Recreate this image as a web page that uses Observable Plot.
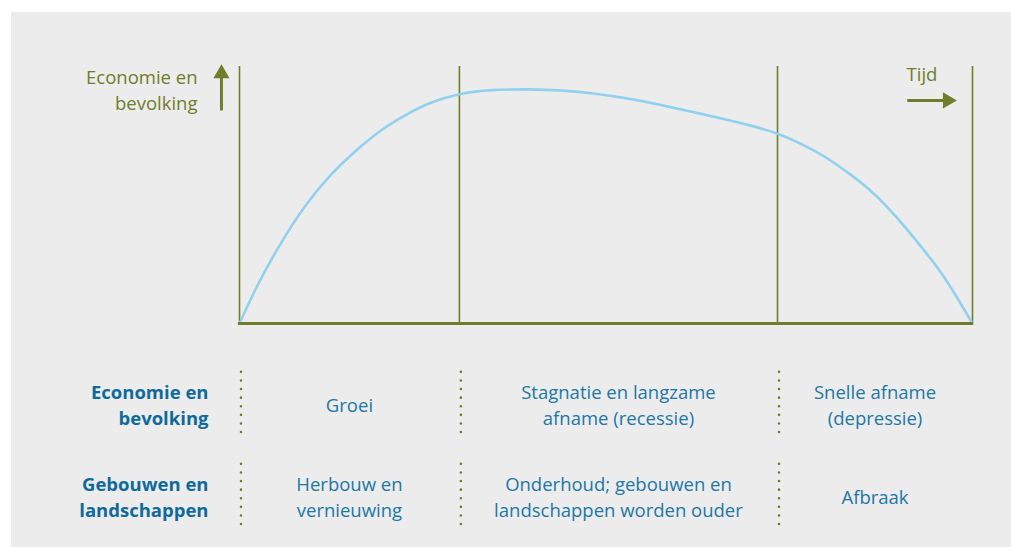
<!DOCTYPE html>
<html>
<head>
<meta charset="utf-8">
<script src="https://cdn.jsdelivr.net/npm/d3@7"></script>
<script src="https://cdn.jsdelivr.net/npm/@observablehq/plot@0.6"></script>
<style>
  html, body { margin: 0; padding: 0; background: #ffffff; }
  #wrap { position: relative; width: 1011px; height: 547px; overflow: hidden; }
  #panel { position: absolute; left: 11px; top: 12px; right: 0; bottom: 0; background: #ececec; }
  #chart { position: absolute; left: 0; top: 0; }
</style>
</head>
<body>
<div id="wrap"><div id="panel"></div><div id="chart"></div></div>
<script>
// time (0–100) vs. level of economy & population (0–100)
const curveTime  = [0, 2.4, 5.6, 9.0, 12.4, 15.8, 19.3, 22.6, 26.1, 30.2, 34.5, 39.5, 44.0, 48.5, 53.0, 57.5, 62.0, 66.5, 70.0, 73.4, 77.0, 80.0, 83.0, 85.8, 88.4, 90.8, 93.1, 95.4, 97.7, 100];
const curveLevel = [0, 14.5, 31.0, 45.8, 57.6, 67.0, 75.1, 81.0, 85.9, 89.3, 90.8, 91.1, 90.6, 89.4, 87.5, 85.0, 82.2, 79.3, 76.8, 73.8, 69.3, 64.6, 58.7, 52.4, 45.2, 37.5, 29.5, 21.0, 11.0, 0];

// phase boundaries on the time axis
const phaseBounds = [0, 30, 73.4, 100];

// table rows and labels
const rowNames = ["Economie en\nbevolking", "Gebouwen en\nlandschappen"];
const rowLevel = [-31.3, -67.1];
const phaseEconomy = ["Groei", "Stagnatie en langzame\nafname (recessie)", "Snelle afname\n(depressie)"];
const phaseBuildings = ["Herbouw en\nvernieuwing", "Onderhoud; gebouwen en\nlandschappen worden ouder", "Afbraak"];

const yAxisLabel = "Economie en\nbevolking";
const xAxisLabel = "Tijd";

const olive = "#6f7e2b";
const skyBlue = "#92d1ee";
const tableBlue = "#2177a6";
const labelBlue = "#0f6a9c";

const curve = curveTime.map((t, i) => ({t, v: curveLevel[i]}));
const mids = phaseBounds.slice(0, -1).map((b, i) => (b + phaseBounds[i + 1]) / 2);

const cells = [];
rowNames.forEach((r, ri) => {
  const texts = ri === 0 ? phaseEconomy : phaseBuildings;
  texts.forEach((s, pi) => cells.push({t: mids[pi], v: rowLevel[ri], s}));
});
const seps = [];
rowLevel.forEach(v => phaseBounds.slice(0, -1).forEach(b => seps.push({t: b, v1: v + 12.3, v2: v - 11.7})));

const font = "'Open Sans', 'Noto Sans', sans-serif";
const fs = 18.5;

const plot = Plot.plot({
  width: 1011,
  height: 547,
  marginLeft: 239,
  marginRight: 39,
  marginTop: 66,
  marginBottom: 224,
  style: {background: "transparent", fontFamily: font},
  x: {domain: [0, 100], axis: null},
  y: {domain: [0, 100], axis: null},
  marks: [
    Plot.ruleX(phaseBounds, {x: d => d, y1: 0, y2: 100, stroke: olive, strokeWidth: 1.6}),
    Plot.line(curve, {x: "t", y: "v", curve: "natural", stroke: skyBlue, strokeWidth: 2.6}),
    Plot.ruleY([0], {x1: -0.15, x2: 100.15, stroke: olive, strokeWidth: 3}),
    // y-axis label + up arrow
    Plot.text([yAxisLabel], {x: 0, y: 91.4, text: d => d, dx: -42, textAnchor: "end", lineAnchor: "middle", lineHeight: 1.42, fill: olive, fontSize: fs}),
    Plot.link([{x: -2.46, y1: 82.9, y2: 96}], {x1: "x", x2: "x", y1: "y1", y2: "y2", stroke: olive, strokeWidth: 3}),
    Plot.dot([{x: -2.46, y: 97.2}], {x: "x", y: "y", symbol: "triangle", r: 6, fill: olive, stroke: "none"}),
    // time label + right arrow
    Plot.text([xAxisLabel], {x: 91.0, y: 96.5, text: d => d, textAnchor: "start", lineAnchor: "middle", fill: olive, fontSize: fs}),
    Plot.link([{x1: 91.1, x2: 96, y: 86.8}], {x1: "x1", x2: "x2", y1: "y", y2: "y", stroke: olive, strokeWidth: 3}),
    Plot.dot([{x: 96.6, y: 86.8}], {x: "x", y: "y", symbol: "triangle", rotate: 90, r: 6, fill: olive, stroke: "none"}),
    // dotted separators
    Plot.ruleX(seps, {x: "t", y1: "v1", y2: "v2", dx: 1.5, stroke: olive, strokeWidth: 2.6, strokeDasharray: "0,8.6", strokeLinecap: "round"}),
    // row names
    Plot.text(rowNames, {x: 0, y: (d, i) => rowLevel[i], text: d => d, dx: -31, textAnchor: "end", lineAnchor: "middle", lineHeight: 1.42, fill: labelBlue, fontWeight: "bold", fontSize: fs}),
    // cell texts
    Plot.text(cells, {x: "t", y: "v", text: "s", textAnchor: "middle", lineAnchor: "middle", lineHeight: 1.42, fill: tableBlue, fontSize: fs})
  ]
});
document.getElementById("chart").appendChild(plot);
</script>
</body>
</html>
